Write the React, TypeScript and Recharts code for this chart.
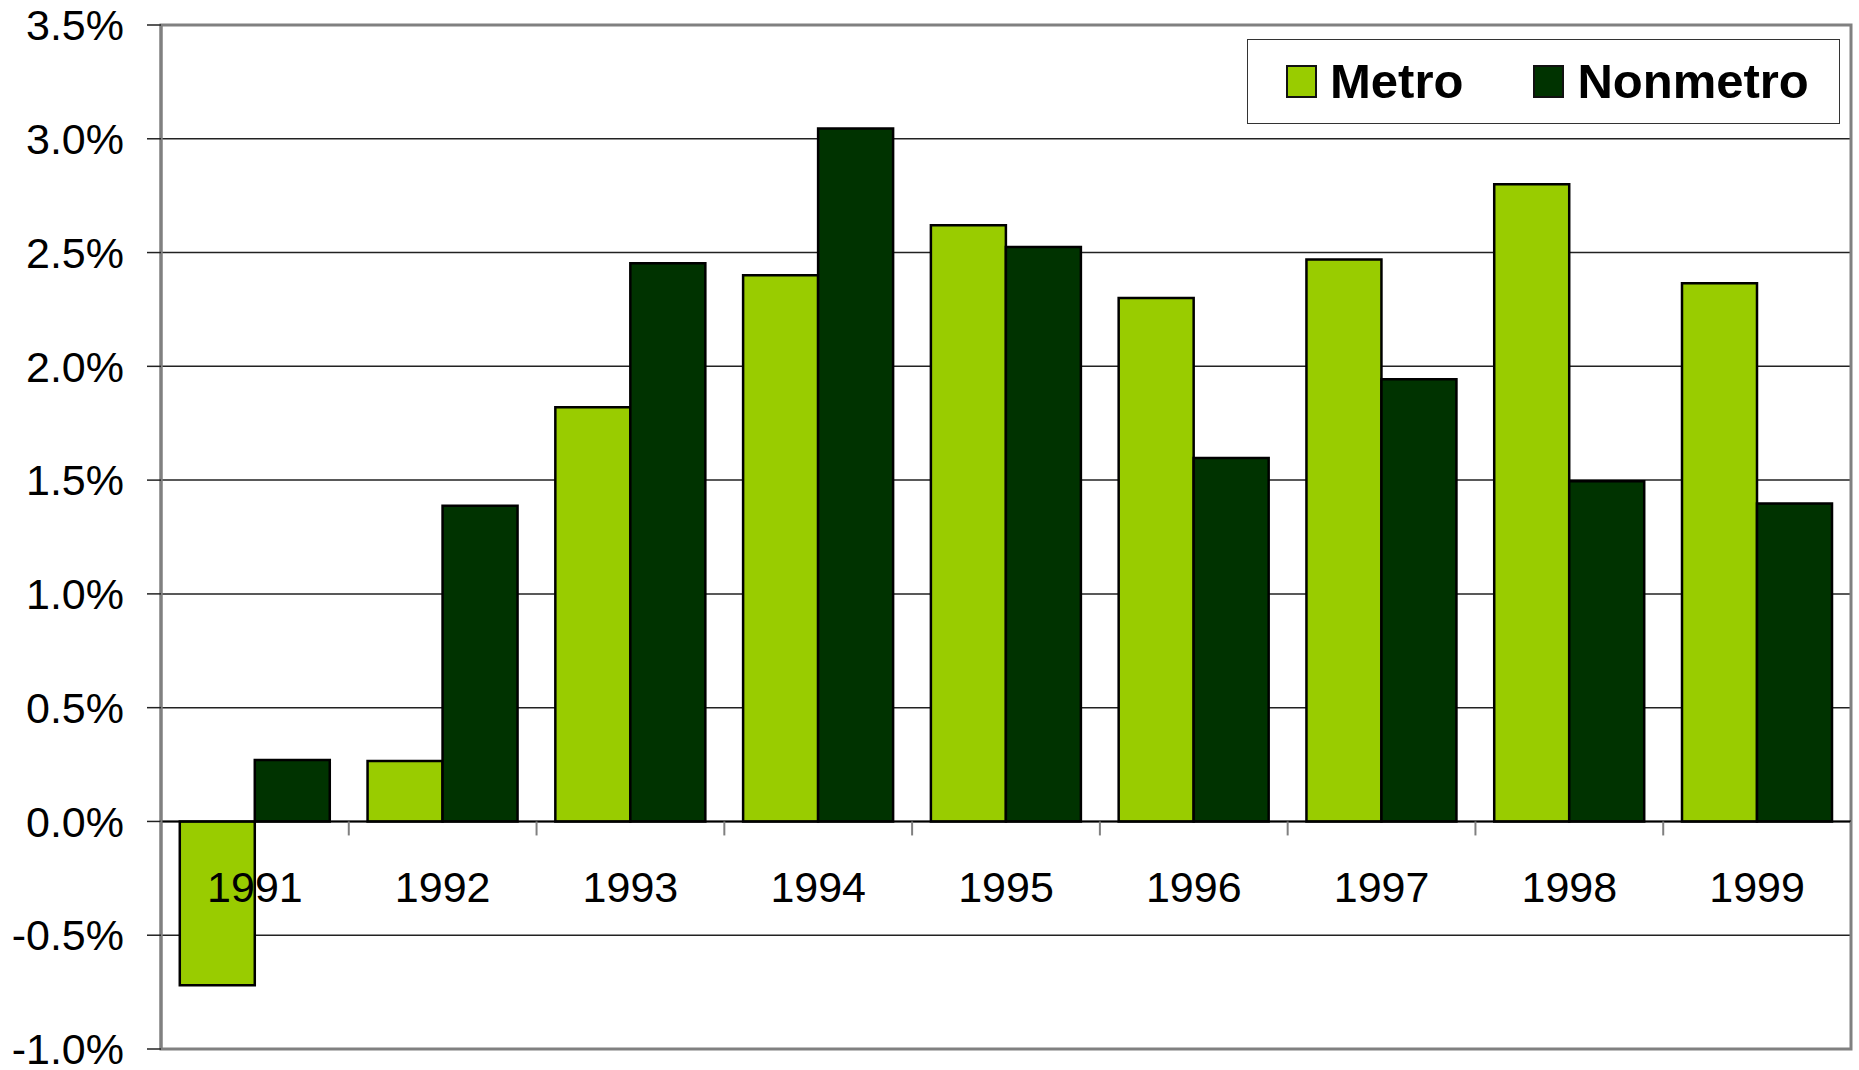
import { Bar, BarChart, CartesianGrid, ReferenceArea, ReferenceLine, XAxis, YAxis } from "recharts";

const years = ["1991", "1992", "1993", "1994", "1995", "1996", "1997", "1998", "1999"];
const metro = [-0.72, 0.266, 1.82, 2.4, 2.62, 2.3, 2.47, 2.8, 2.365];
const nonmetro = [0.27, 1.387, 2.453, 3.045, 2.524, 1.597, 1.943, 1.495, 1.397];
const yTicks = [-1, -0.5, 0, 0.5, 1, 1.5, 2, 2.5, 3, 3.5];

const data = years.map((year, i) => ({ year, metro: metro[i], nonmetro: nonmetro[i] }));

const FONT = "'Liberation Sans', Arial, sans-serif";
const GREEN = "#99CC00";
const DARK = "#003300";

// plot is 1024px high for a 4.5% span, 9 bands across 1690px
const BAND = 1690 / 9;
const TO_ZERO = 1024 / 4.5;

function YearTick(props: any) {
  const { x, y, payload, index } = props;
  const zeroY = y - TO_ZERO;
  return (
    <g>
      <line x1={x - BAND / 2} x2={x - BAND / 2} y1={zeroY} y2={zeroY + 14} stroke="#808080" strokeWidth={2} />
      {index === years.length - 1 && (
        <line x1={x + BAND / 2} x2={x + BAND / 2} y1={zeroY} y2={zeroY + 14} stroke="#808080" strokeWidth={2} />
      )}
      <text x={x} y={zeroY + 81} textAnchor="middle" fontSize={43} fontFamily={FONT} fill="#000">
        {payload.value}
      </text>
    </g>
  );
}

function LegendBox() {
  const items = [
    { name: "Metro", color: GREEN },
    { name: "Nonmetro", color: DARK },
  ];
  return (
    <div
      style={{
        position: "absolute",
        left: 1247,
        top: 39,
        width: 593,
        height: 85,
        border: "1.5px solid #333",
        background: "#fff",
        boxSizing: "border-box",
        display: "flex",
        alignItems: "center",
        paddingLeft: 38,
        fontFamily: FONT,
        fontWeight: "bold",
        fontSize: 49,
      }}
    >
      {items.map((it, i) => (
        <div key={it.name} style={{ display: "flex", alignItems: "center", marginLeft: i ? 70 : 0 }}>
          <span
            style={{
              display: "inline-block",
              width: 31,
              height: 33,
              background: it.color,
              border: "2.5px solid #111",
              boxSizing: "border-box",
              marginRight: 13,
            }}
          />
          <span style={{ lineHeight: 1 }}>{it.name}</span>
        </div>
      ))}
    </div>
  );
}

export default function App() {
  return (
    <div style={{ position: "absolute", left: 0, top: 0, width: 1859, height: 1070, background: "#fff" }}>
      <BarChart
        width={1859}
        height={1070}
        data={data}
        margin={{ top: 25, right: 8, bottom: 0, left: 0 }}
        barCategoryGap="10%"
        barGap={0}
      >
        <CartesianGrid vertical={false} stroke="#222" strokeWidth={1.5} />
        <ReferenceArea y1={-1} y2={3.5} fill="none" stroke="#808080" strokeWidth={3} ifOverflow="visible" />
        <XAxis
          dataKey="year"
          axisLine={false}
          tickLine={false}
          tickSize={0}
          tickMargin={0}
          interval={0}
          height={21}
          tick={<YearTick />}
        />
        <YAxis
          domain={[-1, 3.5]}
          ticks={yTicks}
          interval={0}
          width={161}
          tickFormatter={(v: number) => v.toFixed(1) + "%"}
          axisLine={{ stroke: "#808080", strokeWidth: 3 }}
          tickLine={{ stroke: "#222", strokeWidth: 1.5 }}
          tickSize={14}
          tickMargin={23}
          tick={{ fontSize: 43, fontFamily: FONT, fill: "#000" }}
        />
        <Bar dataKey="metro" name="Metro" fill={GREEN} stroke="#000" strokeWidth={2.5} isAnimationActive={false} />
        <Bar dataKey="nonmetro" name="Nonmetro" fill={DARK} stroke="#000" strokeWidth={2.5} isAnimationActive={false} />
        <ReferenceLine y={0} stroke="#000" strokeWidth={2} />
      </BarChart>
      <LegendBox />
    </div>
  );
}
